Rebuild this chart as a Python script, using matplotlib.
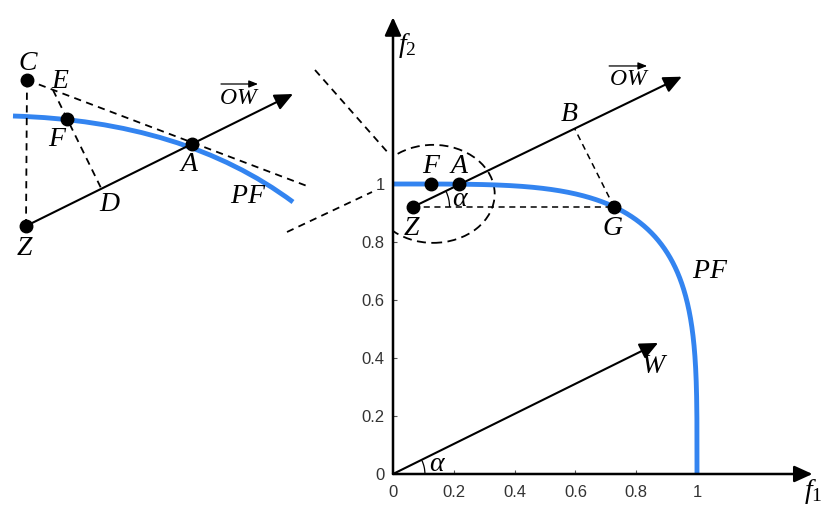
import numpy as np
import matplotlib
matplotlib.use("Agg")
import matplotlib.pyplot as plt
from matplotlib.patches import Arc, Ellipse, PathPatch
from matplotlib.path import Path

plt.rcParams['mathtext.fontset'] = 'custom'
plt.rcParams['mathtext.rm'] = 'Liberation Serif'
plt.rcParams['mathtext.it'] = 'Liberation Serif:italic'

# ---- main diagram values (f1, f2) ----
tick_vals = [0, 0.2, 0.4, 0.6, 0.8, 1]
tick_labels = ['0', '0.2', '0.4', '0.6', '0.8', '1']
pf_exp = 4                       # PF: f1^4 + f2^4 = 1
pt_Z = (0.066, 0.921)
pt_F = (0.125, 1.0)
pt_A = (0.218, 0.999)
pt_G = (0.727, 0.921)
pt_B = (0.598, 1.19)
ow_tip = (0.95, 1.37)
w_tip = (0.872, 0.452)

# ---- zoomed inset values (pixel frame of left sketch) ----
in_C = (27, 80)
in_Z = (26, 226)
in_A = (192, 144)
in_F = (67, 119)
in_E = (53, 90)
in_D = (101, 188)
in_tan_end = (307, 186)
in_ow_tip = (293, 94)
in_pf = [(13, 116), (184, 121), (293, 202)]   # quadratic bezier
link_up = [(315, 70), (390, 155)]
link_lo = [(287, 232), (372, 192)]

blue = '#3384f0'
lab = dict(fontsize=20, ha='center', va='center')
dash = dict(color='k', ls=(0, (4, 3)), lw=1.3)

fig = plt.figure(figsize=(8.31, 5.24), dpi=100)

# overlay in pixel frame
ov = fig.add_axes([0, 0, 1, 1])
ov.set_xlim(0, 831)
ov.set_ylim(524, 0)
ov.axis('off')

ov.plot([in_C[0], in_Z[0]], [in_C[1], in_Z[1]], **dash)
ov.plot([in_C[0], in_tan_end[0]], [in_C[1], in_tan_end[1]], **dash)
ov.plot([in_E[0], in_D[0]], [in_E[1], in_D[1]], **dash)
ov.add_patch(PathPatch(Path(in_pf, [Path.MOVETO, Path.CURVE3, Path.CURVE3]),
                       fc='none', ec=blue, lw=3.5))
ov.annotate('', xy=in_ow_tip, xytext=in_Z,
            arrowprops=dict(arrowstyle='-|>,head_length=0.55,head_width=0.25',
                            mutation_scale=20, lw=1.5, color='k',
                            shrinkA=0, shrinkB=0))
for p in [in_C, in_Z, in_A, in_F]:
    ov.plot(*p, 'o', color='k', ms=9)
ov.plot([link_up[0][0], link_up[1][0]], [link_up[0][1], link_up[1][1]], **dash)
ov.plot([link_lo[0][0], link_lo[1][0]], [link_lo[0][1], link_lo[1][1]], **dash)

ov.text(28, 62, '$C$', **lab)
ov.text(60, 80, '$E$', **lab)
ov.text(58, 138, '$F$', **lab)
ov.text(189, 163, '$A$', **lab)
ov.text(110, 203, '$D$', **lab)
ov.text(25, 247, '$Z$', **lab)
ov.text(248, 195, '$PF$', **lab)
ov.text(239, 97, '$OW$', fontsize=17, ha='center', va='center')
ov.annotate('', xy=(258, 84), xytext=(221, 84),
            arrowprops=dict(arrowstyle='-|>,head_length=0.45,head_width=0.18',
                            mutation_scale=12, lw=0.9, color='k',
                            shrinkA=0, shrinkB=0))

# main axes
ax = fig.add_axes([393 / 831, 50 / 524, 1.4 * 304 / 831, 1.58 * 290 / 524])
ax.set_xlim(0, 1.4)
ax.set_ylim(0, 1.58)
ax.patch.set_alpha(0)
for s in ax.spines.values():
    s.set_visible(False)
ax.set_xticks(tick_vals, tick_labels)
ax.set_yticks(tick_vals, tick_labels)
ax.tick_params(direction='in', length=3, width=0.8, labelsize=12,
               labelcolor='#333333', colors='#555555')
ax.tick_params(axis='x', pad=8)
ax.tick_params(axis='y', pad=6)
for t in ax.get_xticklabels() + ax.get_yticklabels():
    t.set_family('Liberation Sans')

arr = dict(arrowstyle='-|>,head_length=0.55,head_width=0.25',
           mutation_scale=20, lw=1.8, color='k', shrinkA=0, shrinkB=0)
ax.annotate('', xy=(1.38, 0), xytext=(0, 0), arrowprops=arr)
ax.annotate('', xy=(0, 1.575), xytext=(0, 0), arrowprops=arr)

theta = np.linspace(0, np.pi / 2, 600)
f1 = np.cos(theta) ** (2 / pf_exp)
f2 = np.sin(theta) ** (2 / pf_exp)
ax.plot(f1, f2, color=blue, lw=3.5, solid_capstyle='round')

arr2 = dict(arr, lw=1.5)
ax.annotate('', xy=w_tip, xytext=(0, 0), arrowprops=arr2)
ax.annotate('', xy=ow_tip, xytext=pt_Z, arrowprops=arr2)
ax.plot([pt_Z[0], pt_G[0]], [pt_Z[1], pt_G[1]], **dict(dash, lw=1.1))
ax.plot([pt_G[0], pt_B[0]], [pt_G[1], pt_B[1]], **dict(dash, lw=1.1))
for p in [pt_Z, pt_F, pt_A, pt_G]:
    ax.plot(*p, 'o', color='k', ms=9)

ax.add_patch(Ellipse((0.132, 0.966), 0.405, 0.338, fc='none', ec='k',
                     ls=(0, (5, 3)), lw=1.3))
ax.add_patch(Arc((0, 0), 0.21, 0.22, theta1=0, theta2=26, lw=0.9))
ax.add_patch(Arc(pt_Z, 0.24, 0.25, theta1=0, theta2=26, lw=0.9))

ax.text(0.046, 1.479, '$f_2$', **lab)
ax.text(1.382, -0.062, '$f_1$', **lab)
ax.text(0.776, 1.365, '$OW$', fontsize=17, ha='center', va='center')
ax.annotate('', xy=(0.836, 1.407), xytext=(0.711, 1.407),
            arrowprops=dict(arrowstyle='-|>,head_length=0.45,head_width=0.18',
                            mutation_scale=12, lw=0.9, color='k',
                            shrinkA=0, shrinkB=0))
ax.text(0.579, 1.245, '$B$', **lab)
ax.text(0.128, 1.066, '$F$', **lab)
ax.text(0.217, 1.066, '$A$', **lab)
ax.text(0.222, 0.952, r'$\alpha$', **lab)
ax.text(0.063, 0.852, '$Z$', **lab)
ax.text(0.724, 0.852, '$G$', **lab)
ax.text(1.043, 0.703, '$PF$', **lab)
ax.text(0.862, 0.376, '$W$', **lab)
ax.text(0.145, 0.038, r'$\alpha$', **lab)

fig.savefig('out.png', dpi=100)
